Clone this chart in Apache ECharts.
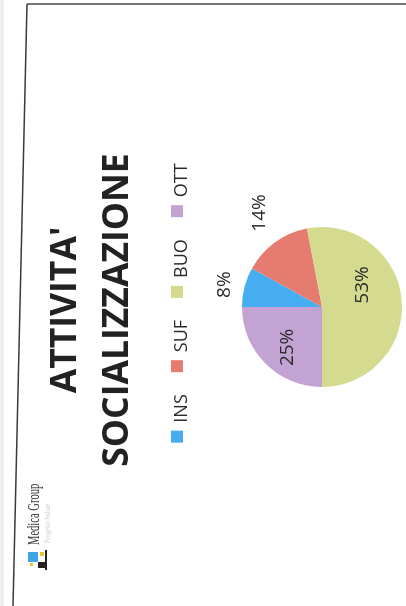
<!DOCTYPE html>
<html><head><meta charset="utf-8">
<script src="https://cdn.jsdelivr.net/npm/echarts@6/dist/echarts.min.js"></script>
<style>
html,body{margin:0;padding:0;background:#fff;overflow:hidden}
#page{position:absolute;left:0;top:0;width:406px;height:606px;overflow:hidden;background:#fff}
#chart{position:absolute;left:-100px;top:100px;width:606px;height:406px;transform:rotate(-90deg);transform-origin:50% 50%}
</style></head><body>
<div id="page"><div id="chart"></div></div>
<script>
// ---- data ----
const titleLines = ["ATTIVITA'", "SOCIALIZZAZIONE"];
const categories = ["INS", "SUF", "BUO", "OTT"];
const values = [8, 14, 53, 25];
const logoName = "Medica Group";
const logoSub = "Progetto Salute";

// ---- styling ----
const colors = ['#45adf0', '#e67b6f', '#d4da8e', '#c2a3d4'];
const labelPos = ['outside', 'outside', 'inside', 'inside'];
const labelNudge = [[-1, -6], [18, -7], [18, -2], [-10, -4]];

const chart = echarts.init(document.getElementById('chart'), null, {renderer: 'canvas'});
chart.setOption({
  animation: false,
  color: colors,
  title: {
    text: titleLines.join('\n'),
    left: 291, top: 35, textAlign: 'center',
    textStyle: {fontFamily: 'Open Sans', fontWeight: 'bold', fontSize: 35.5, lineHeight: 52, color: '#222'}
  },
  legend: {
    data: categories, left: 'center', top: 166, orient: 'horizontal',
    icon: 'rect', itemWidth: 12, itemHeight: 12, itemGap: 22, selectedMode: false,
    formatter: '{t|{name}}',
    textStyle: {
      fontFamily: 'Open Sans', fontSize: 18, color: '#2a2a2a',
      rich: {t: {fontFamily: 'Open Sans', fontSize: 18, color: '#2a2a2a', padding: [9, 0, 0, 3]}}
    }
  },
  series: [{
    type: 'pie', center: [299, 322], radius: 80, startAngle: 90, clockwise: true,
    avoidLabelOverlap: false, silent: true,
    itemStyle: {borderWidth: 0},
    label: {formatter: '{c}%', fontFamily: 'Open Sans', fontSize: 19, color: '#2a2a2a', distanceToLabelLine: 0},
    labelLine: {show: false, length: 14, length2: 0},
    labelLayout: function (p) {
      const n = labelNudge[p.dataIndex];
      return {dx: n[0], dy: n[1], align: 'center', verticalAlign: 'middle'};
    },
    data: categories.map((c, i) => ({name: c, value: values[i], label: {position: labelPos[i]}}))
  }],
  graphic: [
    {type: 'rect', shape: {x: 0, y: 0, width: 606, height: 4}, style: {fill: '#eeeeee'}, silent: true},
    {type: 'line', shape: {x1: 602, y1: 27, x2: 602, y2: 406}, style: {stroke: '#3a3a3a', lineWidth: 1.4}, silent: true},
    {type: 'line', shape: {x1: 602, y1: 27, x2: 0, y2: 13}, style: {stroke: '#3a3a3a', lineWidth: 1.4}, silent: true},
    {type: 'text', x: 61, y: 27, scaleX: 0.66, silent: true,
     style: {text: logoName, font: '16px "Liberation Sans Narrow"', fill: '#333', textAlign: 'left', textVerticalAlign: 'top'}},
    {type: 'text', x: 63, y: 44, scaleX: 0.8, silent: true,
     style: {text: logoSub, font: '8px "Liberation Sans Narrow"', fill: '#cfcfcf', textAlign: 'left', textVerticalAlign: 'top'}},
    {type: 'rect', shape: {x: 44, y: 28, width: 10, height: 10}, style: {fill: '#3fa6e6'}, silent: true},
    {type: 'rect', shape: {x: 38, y: 38, width: 6, height: 8}, style: {fill: '#222'}, silent: true},
    {type: 'rect', shape: {x: 36, y: 45, width: 20, height: 2}, style: {fill: '#222'}, silent: true},
    {type: 'rect', shape: {x: 50, y: 40, width: 4, height: 4}, style: {fill: '#e8c531'}, silent: true},
    {type: 'rect', shape: {x: 40, y: 30, width: 3, height: 3}, style: {fill: '#e8c531'}, silent: true}
  ]
});
</script>
</body></html>
